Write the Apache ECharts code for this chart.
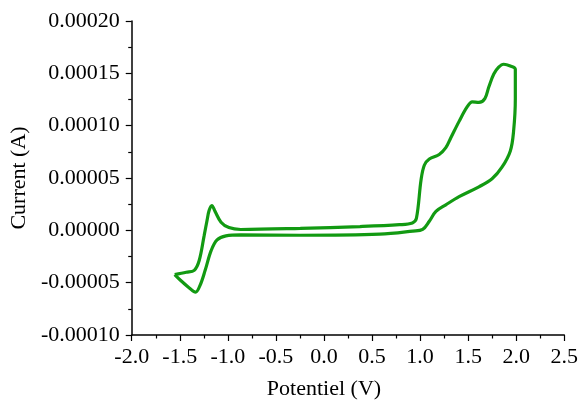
<!DOCTYPE html>
<html>
<head>
<meta charset="utf-8">
<script src="https://cdn.jsdelivr.net/npm/echarts@6/dist/echarts.min.js"></script>
<style>html,body{margin:0;padding:0;background:#fff}#c{width:581px;height:405px}</style>
</head>
<body>
<div id="c"></div>
<script>
// Potential (V) and current (A) of the cyclic voltammogram, in sweep order
var potential = [
  -1.553, -1.432, -1.350, -1.298, -1.247, -1.216, -1.195, -1.167, -1.133, -1.071,
  -0.989, -0.865, -0.246, 0.374, 0.786, 0.920, 0.962, 1.010, 1.044, 1.096,
  1.199, 1.268, 1.320, 1.406, 1.491, 1.543, 1.612, 1.674, 1.715, 1.767,
  1.818, 1.870, 1.939, 1.991,
  1.991, 1.973, 1.939, 1.852, 1.749, 1.612, 1.406, 1.268, 1.165, 1.096,
  1.027, 0.924, 0.580, -0.246, -0.865, -1.020, -1.112, -1.174, -1.236, -1.288,
  -1.336, -1.401, -1.484, -1.553
];
var current = [
  -4.22e-5, -4.00e-5, -3.82e-5, -2.88e-5, -0.53e-5, 0.97e-5, 1.90e-5, 2.37e-5, 1.81e-5, 0.78e-5,
  0.26e-5, 0.08e-5, 0.19e-5, 0.36e-5, 0.54e-5, 0.71e-5, 1.15e-5, 4.81e-5, 6.22e-5, 6.81e-5,
  7.25e-5, 7.90e-5, 8.84e-5, 10.41e-5, 11.81e-5, 12.28e-5, 12.22e-5, 12.59e-5, 13.69e-5, 14.93e-5,
  15.59e-5, 15.87e-5, 15.71e-5, 15.40e-5,
  12.59e-5, 9.47e-5, 7.59e-5, 6.03e-5, 4.93e-5, 4.16e-5, 3.22e-5, 2.44e-5, 1.81e-5, 0.87e-5,
  0.09e-5, -0.07e-5, -0.37e-5, -0.47e-5, -0.44e-5, -0.53e-5, -0.91e-5, -1.94e-5, -3.82e-5, -5.23e-5,
  -5.91e-5, -5.50e-5, -4.84e-5, -4.22e-5
];
var xTicks = { min: -2.0, max: 2.5, interval: 0.5 };
var yTicks = { min: -0.0001, max: 0.0002, interval: 0.00005 };

var pts = potential.map(function (v, i) { return [v, current[i]]; });
var font = 'Liberation Serif';
var chart = echarts.init(document.getElementById('c'), null, { renderer: 'canvas' });
chart.setOption({
  animation: false,
  grid: { left: 130, right: 15, top: 21, bottom: 64, containLabel: false },
  xAxis: {
    type: 'value', min: xTicks.min, max: xTicks.max, interval: xTicks.interval,
    name: 'Potentiel (V)', nameLocation: 'middle', nameGap: 43,
    nameTextStyle: { fontFamily: font, fontSize: 22, color: '#000', padding: [0, 48, 0, 0] },
    axisLine: { show: true, onZero: false, lineStyle: { color: '#000', width: 1.5 } },
    axisTick: { show: true, inside: false, length: 6, lineStyle: { color: '#000', width: 1.2 } },
    minorTick: { show: true, splitNumber: 2, length: 3.5, lineStyle: { color: '#000', width: 1.2 } },
    splitLine: { show: false },
    axisLabel: { fontFamily: font, fontSize: 22, color: '#000', margin: 11,
      formatter: function (v) { return v.toFixed(1); } }
  },
  yAxis: {
    type: 'value', min: yTicks.min, max: yTicks.max, interval: yTicks.interval,
    name: 'Current (A)', nameLocation: 'middle', nameGap: 97,
    nameTextStyle: { fontFamily: font, fontSize: 22, color: '#000' },
    axisLine: { show: true, onZero: false, lineStyle: { color: '#000', width: 1.5 } },
    axisTick: { show: true, inside: false, length: 6, lineStyle: { color: '#000', width: 1.2 } },
    minorTick: { show: true, splitNumber: 2, length: 3.5, lineStyle: { color: '#000', width: 1.2 } },
    splitLine: { show: false },
    axisLabel: { fontFamily: font, fontSize: 22, color: '#000', margin: 12,
      formatter: function (v) { return v.toFixed(5); } }
  },
  series: [{
    type: 'line', data: pts, showSymbol: false, smooth: 0.35,
    lineStyle: { color: '#129a12', width: 3.2 },
    itemStyle: { color: '#129a12' }
  }]
});
</script>
</body>
</html>
